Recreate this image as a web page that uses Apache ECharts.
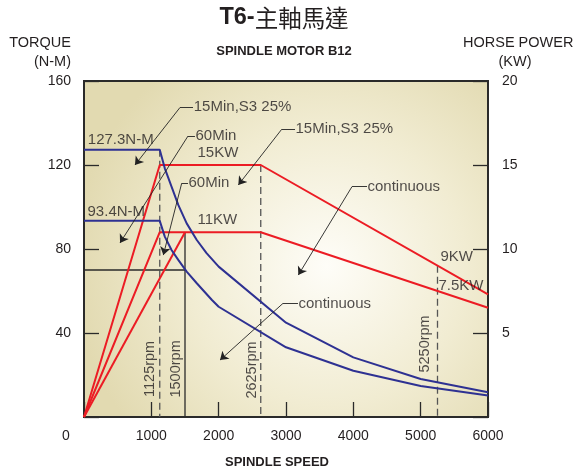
<!DOCTYPE html>
<html><head><meta charset="utf-8">
<script src="https://cdn.jsdelivr.net/npm/echarts@6/dist/echarts.min.js"></script>
<style>html,body{margin:0;padding:0;background:#fff}#c{width:576px;height:475px}</style>
</head><body><div id="c"></div>
<script>
// ---- data ----
const speedTicks = [0, 1000, 2000, 3000, 4000, 5000, 6000];
const torqueTicks = [0, 40, 80, 120, 160];
const powerTicks = [0, 5, 10, 15, 20];

// torque curves (N-M) vs spindle speed (rpm)
const torqueS3 = [[0,127.3],[1125,127.3],[1200,118.4],[1300,109.7],[1400,101],[1525,92.2],[1675,84.3],[1820,78],[2000,71.6],[3000,44.9],[4000,28.4],[5000,18.1],[6000,11.8]];
const torqueCont = [[0,93.4],[1125,93.4],[1200,85.9],[1300,79.5],[1400,74.8],[1525,69.2],[1675,63.7],[1900,55.7],[2000,52.5],[3000,33.2],[4000,22],[5000,14.8],[6000,10.2]];

// power curves (KW) vs spindle speed (rpm)
const powerS3 = [[0,0],[1125,15],[2625,15],[6000,7.3]];
const powerCont = [[0,0],[1125,11],[2625,11],[6000,6.5]];
const power60 = [[0,0],[1500,11]];

// reference lines (torque units)
const refDashed = [[[1125,127.3],[1125,0]], [[2625,120],[2625,0]], [[5250,72],[5250,0]]];
const refSolid = [[[1500,88],[1500,0]], [[0,70],[1500,70]]];

// annotation texts (left edge, middle)
const noteNames = ['15Min,S3 25%','127.3N-M','60Min','15KW','93.4N-M','60Min','11KW','15Min,S3 25%','continuous','continuous','9KW','7.5KW'];
const notePos = [[1623,147.5],[49,131.9],[1648,133.8],[1678,125.6],[45,97.6],[1545,111.3],[1678,93.8],[3134,137],[4203,109.7],[3178,54.1],[5287,76.3],[5257,62.5]];

// rotated rpm labels (centre)
const rpmNames = ['1125rpm','1500rpm','2625rpm','5250rpm'];
const rpmPos = [[980,22.9],[1366,22.9],[2490,22.4],[5064,34.8]];

// leader lines
const leaderStubs = [[[1619,147.4],[1426,147.4]], [[1648,133.8],[1545,133.8]], [[1545,111.3],[1451,111.3]], [[3134,137],[2936,137]], [[4203,109.7],[3980,109.7]], [[3178,54.1],[2955,54.1]]];
const leaderArrows = [[[1426,147.4],[757,120]], [[1545,133.8],[535,82.9]], [[1451,111.3],[1178,77.1]], [[2936,137],[2292,110.5]], [[3980,109.7],[3183,67.6]], [[2955,54.1],[2020,27.1]]];

// ---- chart ----
const FONT = 'Liberation Sans, Arial, Helvetica, sans-serif';
const TXT = '#231f20';
const RED = '#ec1c24';
const BLUE = '#2e3192';
const chart = echarts.init(document.getElementById('c'), null, {renderer:'canvas'});

const series = [];
refDashed.forEach(d => series.push({type:'line', data:d, showSymbol:false, silent:true, z:2,
  lineStyle:{color:'#555', width:1.3, type:[7,4]}}));
refSolid.forEach(d => series.push({type:'line', data:d, showSymbol:false, silent:true, z:2,
  lineStyle:{color:'#2a2a2a', width:1.3}}));
[powerS3, powerCont, power60].forEach(d => series.push({type:'line', yAxisIndex:1, data:d, showSymbol:false, z:3,
  lineStyle:{color:RED, width:2}}));
[torqueS3, torqueCont].forEach(d => series.push({type:'line', data:d, showSymbol:false, z:4,
  lineStyle:{color:BLUE, width:2}}));
series.push({type:'lines', coordinateSystem:'cartesian2d', z:5, silent:true, symbol:['none','none'],
  lineStyle:{color:'#222', width:0.9, opacity:1}, data:leaderStubs.map(c => ({coords:c}))});
series.push({type:'lines', coordinateSystem:'cartesian2d', z:5, silent:true, symbol:['none','arrow'], symbolSize:8,
  lineStyle:{color:'#222', width:0.9, opacity:1}, data:leaderArrows.map(c => ({coords:c}))});
series.push({type:'scatter', z:6, silent:true, symbolSize:1, itemStyle:{color:'transparent'},
  data:noteNames.map((n,i) => ({name:n, value:notePos[i]})),
  label:{show:true, position:'right', distance:0, formatter:p => p.name, color:TXT, fontSize:15, fontFamily:FONT}});
series.push({type:'scatter', z:6, silent:true, symbolSize:1, itemStyle:{color:'transparent'},
  data:rpmNames.map((n,i) => ({name:n, value:rpmPos[i]})),
  label:{show:true, position:'inside', rotate:90, formatter:p => p.name, color:TXT, fontSize:14.5, fontFamily:FONT}});

const axisLineStyle = {color:'#2a2a2a', width:2};
const tickStyle = {show:true, inside:true, length:15, lineStyle:{color:'#2a2a2a', width:1.3}};

chart.setOption({
  animation:false,
  backgroundColor:'#ffffff',
  grid:{left:84, right:88, top:81, bottom:58, show:true, borderColor:'#2a2a2a', borderWidth:2,
    backgroundColor:{type:'radial', x:0.6, y:0.55, r:0.75,
      colorStops:[{offset:0, color:'#fefdf8'},{offset:0.55, color:'#f1ecd2'},{offset:1, color:'#e2dab1'}]}},
  xAxis:{type:'value', min:speedTicks[0], max:speedTicks[speedTicks.length-1], interval:speedTicks[1]-speedTicks[0],
    axisLine:{show:true, lineStyle:axisLineStyle}, axisTick:tickStyle, splitLine:{show:false},
    axisLabel:{margin:12, color:TXT, fontSize:14, fontFamily:FONT,
      formatter:v => v === 0 ? '{z|0}' : String(v),
      rich:{z:{padding:[0,36,0,0], color:TXT, fontSize:14, fontFamily:FONT}}}},
  yAxis:[
    {type:'value', position:'left', min:torqueTicks[0], max:torqueTicks[torqueTicks.length-1], interval:torqueTicks[1]-torqueTicks[0],
      axisLine:{show:true, lineStyle:axisLineStyle}, axisTick:tickStyle, splitLine:{show:false},
      axisLabel:{margin:13, color:TXT, fontSize:14, fontFamily:FONT, formatter:v => v === 0 ? '' : String(v)}},
    {type:'value', position:'right', min:powerTicks[0], max:powerTicks[powerTicks.length-1], interval:powerTicks[1]-powerTicks[0],
      axisLine:{show:true, lineStyle:axisLineStyle}, axisTick:tickStyle, splitLine:{show:false},
      axisLabel:{margin:14, color:TXT, fontSize:14, fontFamily:FONT, formatter:v => v === 0 ? '' : String(v)}}
  ],
  graphic:[
    {type:'text', x:284, y:18, style:{text:'{b|T6-}{r|主軸馬達}', align:'center', verticalAlign:'middle',
      rich:{b:{fontSize:23.5, fontWeight:'bold', fontFamily:FONT, fill:TXT},
            r:{fontSize:23.5, fontFamily:'Noto Sans CJK TC, sans-serif', fill:TXT}}}},
    {type:'text', x:284, y:51.5, style:{text:'SPINDLE MOTOR B12', align:'center', verticalAlign:'middle', fontSize:13, fontWeight:'bold', fontFamily:FONT, fill:TXT}},
    {type:'text', x:71, y:43, style:{text:'TORQUE', align:'right', verticalAlign:'middle', fontSize:14.5, fontFamily:FONT, fill:TXT}},
    {type:'text', x:71, y:62, style:{text:'(N-M)', align:'right', verticalAlign:'middle', fontSize:14.5, fontFamily:FONT, fill:TXT}},
    {type:'text', x:463, y:43, style:{text:'HORSE POWER', align:'left', verticalAlign:'middle', fontSize:14.5, fontFamily:FONT, fill:TXT}},
    {type:'text', x:515, y:62, style:{text:'(KW)', align:'center', verticalAlign:'middle', fontSize:14.5, fontFamily:FONT, fill:TXT}},
    {type:'text', x:277, y:462, style:{text:'SPINDLE SPEED', align:'center', verticalAlign:'middle', fontSize:13, fontWeight:'bold', fontFamily:FONT, fill:TXT}}
  ],
  series:series
});
</script></body></html>
